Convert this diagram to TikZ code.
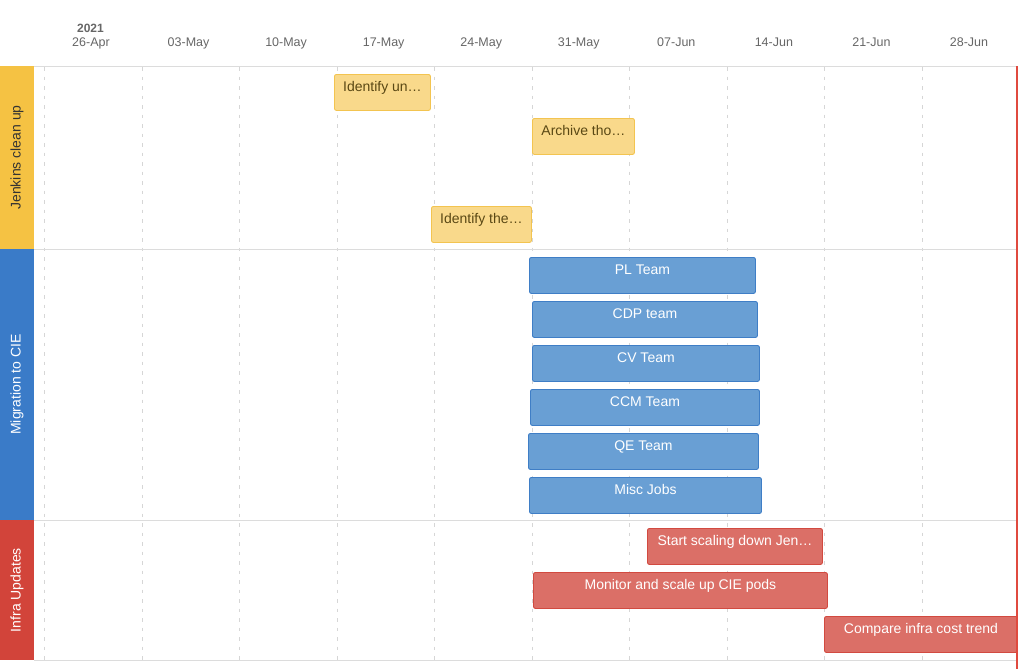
\documentclass[tikz,border=0pt]{standalone}
\usepackage{fontspec}
\setmainfont{Liberation Sans}
\definecolor{hdrtext}{HTML}{666666}
\definecolor{gridgray}{HTML}{D6D6D6}
\definecolor{sepgray}{HTML}{DCDCDC}
\definecolor{laneyellow}{HTML}{F5C243}
\definecolor{laneblue}{HTML}{3A7BC8}
\definecolor{lanered}{HTML}{D2443A}
\definecolor{taskyellow}{HTML}{F9D98B}
\definecolor{edgeyellow}{HTML}{F3C450}
\definecolor{textyellow}{HTML}{5A4814}
\definecolor{taskblue}{HTML}{699FD4}
\definecolor{edgeblue}{HTML}{3F7EC6}
\definecolor{taskred}{HTML}{DB6F67}
\definecolor{edgered}{HTML}{D24A40}
\definecolor{nowred}{HTML}{E04A3F}
\begin{document}
\begin{tikzpicture}[x=1pt,y=-1pt,
    every node/.style={font=\fontsize{14}{16}\selectfont},
    task/.style={anchor=north west,rounded corners=2pt,line width=0.9pt,
      minimum height=36pt,inner xsep=0pt,inner ysep=4pt,text height=13pt,text depth=15pt},
    ytask/.style={task,fill=taskyellow,draw=edgeyellow,text=textyellow},
    btask/.style={task,fill=taskblue,draw=edgeblue,text=white},
    rtask/.style={task,fill=taskred,draw=edgered,text=white},
    lane/.style={rotate=90,minimum height=34pt,inner sep=0pt,outer sep=0pt},
    gridln/.style={gridgray,line width=0.8pt,dash pattern=on 3.5pt off 6pt},
    sepln/.style={sepgray,line width=1pt}]
  \useasboundingbox (0,0) rectangle (1024,669);
  \node[anchor=base,text=hdrtext,font=\fontsize{12}{14}\selectfont\bfseries] (year) at (90.5,32.7) {2021};
  \foreach \d [count=\i from 0] in {26-Apr,03-May,10-May,17-May,24-May,31-May,07-Jun,14-Jun,21-Jun,28-Jun} {
    \draw[gridln] (44.4+97.55*\i,67) -- (44.4+97.55*\i,660);
    \node[anchor=base,text=hdrtext,font=\fontsize{12.5}{14}\selectfont] (wk\i) at (91+97.55*\i,46.7) {\d};
  }
  \draw[sepln] (0,66) -- (1018,66);
  \draw[sepln] (34,249) -- (1018,249);
  \draw[sepln] (34,520) -- (1018,520);
  \draw[sepln] (34,660) -- (1018,660);
  \node[lane,fill=laneyellow,minimum width=183pt,text=black!80] (jenkins) at (17,157.5) {Jenkins clean up};
  \node[lane,fill=laneblue,minimum width=271pt,text=white] (migration) at (17,384.5) {Migration to CIE};
  \node[lane,fill=lanered,minimum width=140pt,text=white] (infra) at (17,590) {Infra Updates};
  \node[ytask,minimum width=96pt] (identun) at (334,74) {Identify un…};
  \node[ytask,minimum width=102pt] (archive) at (532,118) {Archive tho…};
  \node[ytask,minimum width=100pt] (identthe) at (431,206) {Identify the…};
  \node[btask,minimum width=226pt] (plteam) at (529,257) {PL Team};
  \node[btask,minimum width=225pt] (cdpteam) at (532,301) {CDP team};
  \node[btask,minimum width=227pt] (cvteam) at (532,345) {CV Team};
  \node[btask,minimum width=229pt] (ccmteam) at (530,389) {CCM Team};
  \node[btask,minimum width=230pt] (qeteam) at (528,433) {QE Team};
  \node[btask,minimum width=232pt] (miscjobs) at (529,477) {Misc Jobs};
  \node[rtask,minimum width=175pt] (scaledown) at (647,528) {Start scaling down Jen…};
  \node[rtask,minimum width=294pt] (scaleup) at (533,572) {Monitor and scale up CIE pods};
  \node[rtask,minimum width=193pt] (costtrend) at (824,616) {Compare infra cost trend};
  \draw[nowred,line width=1.2pt] (1017,66) -- (1017,669);
\end{tikzpicture}
\end{document}
